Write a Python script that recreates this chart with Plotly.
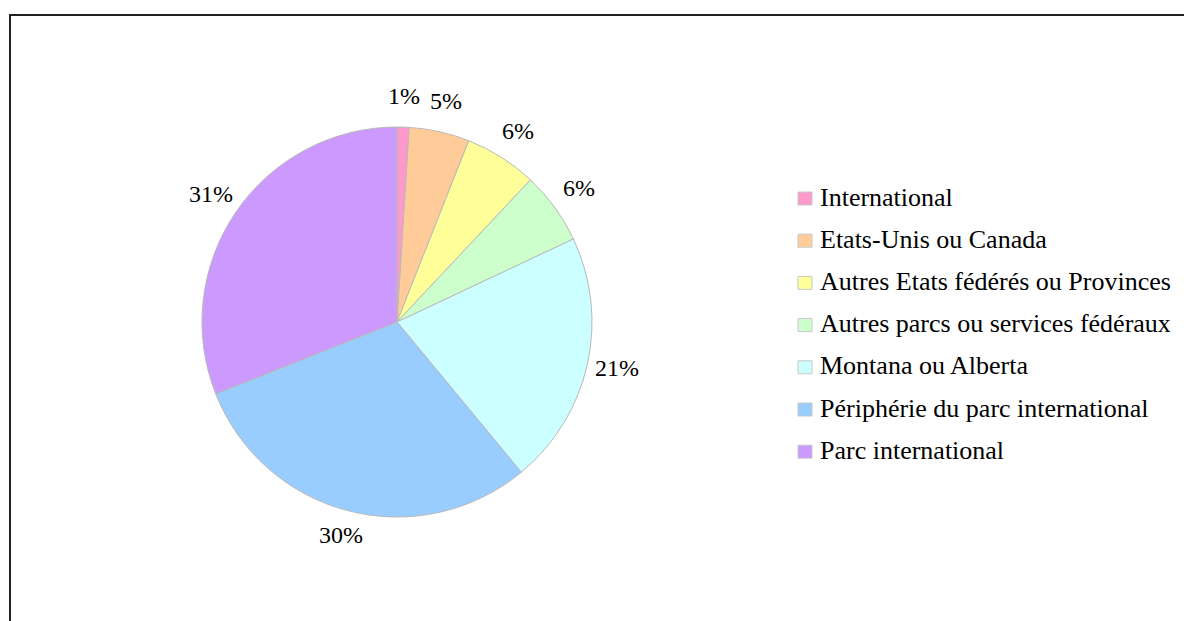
import math
import plotly.graph_objects as go

# Répartition des répondants par provenance
categories = [
    "International",
    "Etats-Unis ou Canada",
    "Autres Etats fédérés ou Provinces",
    "Autres parcs ou services fédéraux",
    "Montana ou Alberta",
    "Périphérie du parc international",
    "Parc international",
]
values = [1, 5, 6, 6, 21, 30, 31]
colors = ["#FF99CC", "#FFCC99", "#FFFF99", "#CCFFCC", "#CCFFFF", "#99CCFF", "#CC99FF"]

W, H = 1184, 621
FONT = "Liberation Serif"

# pie geometry in pixels
cx, cy, r = 397, 322, 195
gap = 8          # distance between rim and label box
half_w, half_h = 22, 20  # half extent of a percentage label box
lift = 3         # optical correction for the text baseline

fig = go.Figure()
fig.add_trace(go.Pie(
    labels=categories,
    values=values,
    marker=dict(colors=colors, line=dict(color="#B8B8B8", width=1)),
    sort=False,
    direction="clockwise",
    rotation=0,
    textinfo="none",
    hoverinfo="label+percent",
    showlegend=False,
    domain=dict(x=[(cx - r) / W, (cx + r) / W], y=[(H - cy - r) / H, (H - cy + r) / H]),
))

annotations = []
shapes = []

# percentage labels placed outside each slice at its mid angle
total = sum(values)
cum = 0
for v in values:
    mid = (cum + v / 2) / total * 2 * math.pi
    cum += v
    s, c = math.sin(mid), math.cos(mid)
    px = cx + (r + gap + half_w) * s
    py = cy - (r + gap + half_h) * c - lift
    annotations.append(dict(
        x=px / W, y=1 - py / H, xref="paper", yref="paper",
        text=f"{round(v / total * 100)}%", showarrow=False,
        xanchor="center", yanchor="middle",
        font=dict(family=FONT, size=24, color="#000000"),
    ))

# legend: colour swatch + label per category
leg_x, leg_y0, leg_dy = 798, 198.5, 42.2
sw = 13
for i, (name, col) in enumerate(zip(categories, colors)):
    yc = leg_y0 + i * leg_dy
    shapes.append(dict(
        type="rect", xref="paper", yref="paper",
        x0=leg_x / W, x1=(leg_x + sw + 1) / W,
        y0=1 - (yc + sw / 2) / H, y1=1 - (yc - sw / 2) / H,
        fillcolor=col, line=dict(color="#C8C8C8", width=1),
    ))
    annotations.append(dict(
        x=(leg_x + 20) / W, y=1 - (yc - 1.5) / H, xref="paper", yref="paper",
        text=name, showarrow=False, xanchor="left", yanchor="middle",
        font=dict(family=FONT, size=26, color="#000000"),
    ))

# chart frame
shapes.append(dict(
    type="rect", xref="paper", yref="paper",
    x0=10 / W, x1=1.02, y0=-0.02, y1=1 - 15 / H,
    line=dict(color="#222222", width=2), fillcolor="rgba(0,0,0,0)",
))

fig.update_layout(
    width=W, height=H, autosize=False,
    margin=dict(l=0, r=0, t=0, b=0),
    font=dict(family=FONT),
    paper_bgcolor="#FFFFFF", plot_bgcolor="#FFFFFF",
    annotations=annotations, shapes=shapes,
    showlegend=False,
)

fig.write_html("out.html")
